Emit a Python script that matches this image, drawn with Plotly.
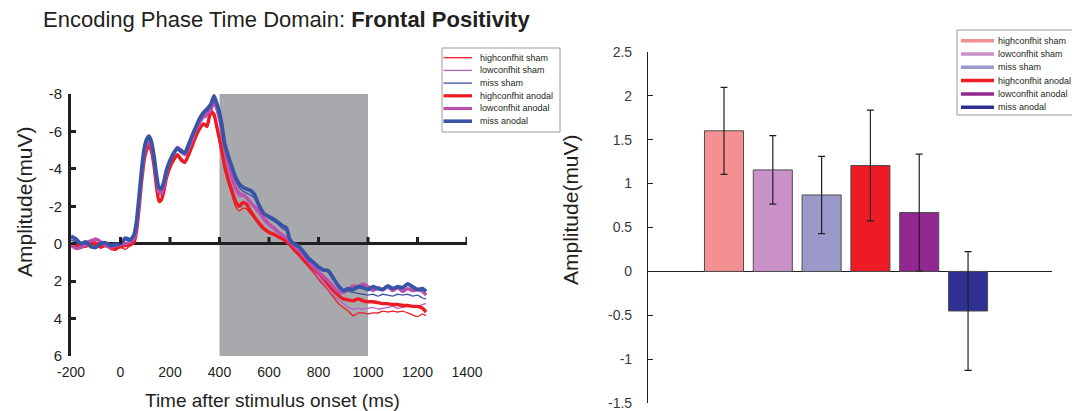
import plotly.graph_objects as go

# The page body has an 8 px default margin, so the figure is drawn 8 px in
# from the window's top-left corner; sizes/positions below are expressed in
# window pixels and converted.
WIN_W, WIN_H = 1080, 411
OFF = 8
W, H = WIN_W - OFF, WIN_H - OFF

# ---------------- data: left panel (ERP waveforms) ----------------
time_ms = [-200, -180, -160, -140, -120, -100, -80, -60, -40, -20,
           0, 20, 40, 55, 65, 75, 85, 95, 105, 115,
           125, 135, 145, 155, 165, 175, 185, 200, 215, 230,
           245, 260, 275, 290, 305, 320, 335, 350, 365, 378,
           390, 400, 410, 420, 435, 450, 465, 480, 495, 510,
           525, 540, 560, 580, 600, 620, 640, 655, 670, 685,
           700, 720, 740, 760, 780, 800, 820, 840, 860, 880,
           900, 920, 940, 960, 980, 1000, 1020, 1040, 1060, 1080,
           1100, 1120, 1140, 1160, 1180, 1200, 1220, 1235]

highconfhit_sham = [0.1, 0.0, 0.1, 0.2, 0.05, 0.1, 0.25, 0.1, 0.3, 0.35,
                    0.2, 0.3, 0.1, 0.0, -0.6, -1.8, -3.2, -4.3, -4.9, -5.2,
                    -4.9, -4.1, -3.0, -2.2, -2.25, -2.7, -3.4, -4.0, -4.4, -4.65,
                    -4.4, -4.3, -4.7, -5.2, -5.7, -6.1, -6.35, -6.2, -6.95, -6.8,
                    -6.0, -5.4, -4.7, -4.0, -3.25, -2.6, -2.0, -1.75, -1.9, -1.85,
                    -1.6, -1.35, -1.0, -0.75, -0.55, -0.45, -0.3, -0.2, -0.05, 0.1,
                    0.35, 0.65, 0.95, 1.25, 1.55, 1.9, 2.2, 2.5, 2.85, 3.2,
                    3.4, 3.6, 3.85, 3.7, 3.7, 3.75, 3.7, 3.7, 3.6, 3.65,
                    3.6, 3.65, 3.6, 3.7, 3.8, 3.9, 3.75, 3.85]

lowconfhit_sham = [0.05, 0.3, 0.15, -0.05, -0.2, -0.1, 0.05, 0.15, 0.1, 0.0,
                   0.0, 0.05, 0.0, -0.2, -0.8, -2.1, -3.5, -4.6, -5.2, -5.4,
                   -5.1, -4.4, -3.4, -2.65, -2.6, -3.0, -3.7, -4.3, -4.75, -5.0,
                   -4.85, -4.7, -5.0, -5.5, -6.0, -6.4, -6.7, -6.8, -7.05, -7.5,
                   -7.0, -6.5, -5.8, -4.9, -4.0, -3.35, -2.8, -2.5, -2.55, -2.4,
                   -2.15, -1.9, -1.55, -1.2, -0.95, -0.75, -0.5, -0.35, -0.2, 0.0,
                   0.2, 0.5, 0.8, 1.1, 1.45, 1.8, 2.1, 2.45, 2.75, 3.0,
                   3.2, 3.4, 3.5, 3.45, 3.5, 3.45, 3.4, 3.5, 3.45, 3.4,
                   3.35, 3.45, 3.4, 3.35, 3.3, 3.35, 3.25, 3.2]

miss_sham = [-0.2, -0.1, 0.05, -0.05, 0.1, 0.2, 0.05, 0.0, 0.1, 0.0,
             0.05, -0.2, -0.1, -0.35, -1.0, -2.3, -3.7, -4.8, -5.4, -5.6,
             -5.3, -4.55, -3.6, -2.9, -2.85, -3.2, -3.85, -4.4, -4.8, -5.0,
             -4.85, -4.75, -5.2, -5.7, -6.1, -6.55, -6.9, -7.05, -7.3, -7.7,
             -7.3, -6.8, -6.1, -5.3, -4.6, -3.95, -3.4, -3.0, -2.8, -2.7,
             -2.6, -2.45, -2.0, -1.6, -1.35, -1.2, -1.0, -0.8, -0.7, -0.3,
             -0.05, 0.2, 0.45, 0.7, 0.95, 1.2, 1.35, 1.5, 1.85, 2.2,
             2.45, 2.55, 2.6, 2.65, 2.7, 2.75, 2.7, 2.8, 2.7, 2.75,
             2.8, 2.7, 2.75, 2.7, 2.8, 2.75, 2.9, 2.95]

highconfhit_anodal = [0.0, 0.1, 0.2, 0.05, -0.1, 0.0, 0.15, 0.1, 0.2, 0.25,
                      0.15, 0.1, 0.05, -0.1, -0.7, -1.9, -3.3, -4.4, -5.0, -5.25,
                      -4.95, -4.2, -3.1, -2.3, -2.35, -2.8, -3.5, -4.1, -4.5, -4.75,
                      -4.5, -4.35, -4.75, -5.25, -5.75, -6.15, -6.4, -6.3, -7.1, -6.9,
                      -6.2, -5.6, -4.9, -4.2, -3.45, -2.85, -2.25, -2.0, -2.2, -2.1,
                      -1.75, -1.45, -1.1, -0.8, -0.62, -0.5, -0.35, -0.27, -0.12, 0.05,
                      0.3, 0.55, 0.85, 1.1, 1.35, 1.55, 1.85, 2.2, 2.5, 2.75,
                      2.95, 3.0, 3.05, 2.95, 3.05, 3.1, 3.1, 3.15, 3.2, 3.2,
                      3.25, 3.25, 3.3, 3.3, 3.35, 3.35, 3.45, 3.65]

lowconfhit_anodal = [0.1, 0.25, 0.2, 0.0, -0.15, -0.25, -0.1, 0.1, 0.2, 0.1,
                     0.05, 0.0, -0.1, -0.3, -0.9, -2.2, -3.6, -4.7, -5.3, -5.5,
                     -5.2, -4.5, -3.5, -2.75, -2.7, -3.1, -3.75, -4.4, -4.85, -5.15,
                     -5.0, -4.8, -5.1, -5.6, -6.1, -6.5, -6.8, -6.95, -7.15, -7.55,
                     -7.2, -6.7, -6.0, -5.1, -4.3, -3.6, -3.0, -2.7, -2.6, -2.45,
                     -2.2, -2.0, -1.75, -1.35, -1.05, -0.85, -0.6, -0.45, -0.3, -0.1,
                     0.1, 0.35, 0.65, 0.95, 1.25, 1.5, 1.75, 2.0, 2.3, 2.55,
                     2.6, 2.45, 2.25, 2.3, 2.15, 2.3, 2.5, 2.35, 2.45, 2.3,
                     2.5, 2.35, 2.55, 2.4, 2.5, 2.45, 2.55, 2.75]

miss_anodal = [-0.4, -0.25, 0.0, -0.1, 0.15, 0.2, 0.0, -0.05, 0.1, 0.05,
               0.0, -0.3, -0.2, -0.5, -1.2, -2.5, -3.9, -5.0, -5.55, -5.75,
               -5.45, -4.7, -3.7, -3.0, -2.95, -3.3, -3.9, -4.45, -4.85, -5.1,
               -4.95, -4.85, -5.3, -5.8, -6.25, -6.7, -7.0, -7.2, -7.45, -7.9,
               -7.45, -7.0, -6.3, -5.4, -4.7, -4.1, -3.55, -3.2, -3.02, -2.92,
               -2.85, -2.65, -2.05, -1.6, -1.45, -1.3, -1.1, -0.95, -0.85, -0.2,
               0.0, 0.15, 0.45, 0.8, 1.0, 1.25, 1.4, 1.45, 1.85, 2.25,
               2.5, 2.4, 2.45, 2.3, 2.35, 2.45, 2.3, 2.4, 2.45, 2.25,
               2.4, 2.3, 2.35, 2.15, 2.3, 2.45, 2.4, 2.55]

series_names = ["highconfhit sham", "lowconfhit sham", "miss sham",
                "highconfhit anodal", "lowconfhit anodal", "miss anodal"]
wave_values = [highconfhit_sham, lowconfhit_sham, miss_sham,
               highconfhit_anodal, lowconfhit_anodal, miss_anodal]

analysis_window_ms = [400, 1000]

time_tickvals = [-200, 0, 200, 400, 600, 800, 1000, 1200, 1400]
time_ticktext = ["-200", "0", "200", "400", "600", "800", "1000", "1200", "1400"]
zero_line_ticks = [0, 200, 400, 600, 800, 1000, 1200, 1400]
amp_tickvals = [-8, -6, -4, -2, 0, 2, 4, 6]
amp_ticktext = ["-8", "-6", "-4", "-2", "0", "2", "4", "6"]

# ---------------- data: right panel (mean amplitude bars) ----------------
bar_means = [1.60, 1.155, 0.87, 1.205, 0.67, -0.45]
bar_errors = [0.495, 0.39, 0.44, 0.63, 0.665, 0.675]
bar_tickvals = [2.5, 2, 1.5, 1, 0.5, 0, -0.5, -1, -1.5]
bar_ticktext = ["2.5", "2", "1.5", "1", "0.5", "0", "-0.5", "-1", "-1.5"]

# ---------------- styles ----------------
FONT = "Liberation Sans, Arial, sans-serif"
INK = "#231F20"
wave_colors = ["#ED1C24", "#B95FBD", "#3A52A8", "#ED1C24", "#BD4FAF", "#3953A6"]
wave_widths = [1.3, 1.3, 1.3, 3.4, 3.4, 3.8]
bar_colors = ["#F59092", "#C991C8", "#9B98CA", "#ED1B24", "#92278F", "#2E3192"]


def px_x(x):
    return (x - OFF) / W


def px_y(y):
    return 1 - (y - OFF) / H


fig = go.Figure()

# left panel: analysis window
fig.add_shape(type="rect", xref="x", yref="y",
              x0=analysis_window_ms[0], x1=analysis_window_ms[1], y0=-8, y1=6,
              fillcolor="#A7A9AC", line=dict(width=0), layer="below")

# waveforms
for name, vals, col, wd in zip(series_names, wave_values, wave_colors, wave_widths):
    fig.add_trace(go.Scatter(x=time_ms, y=vals, mode="lines", name=name,
                             line=dict(color=col, width=wd, shape="spline", smoothing=0.5),
                             showlegend=False, xaxis="x", yaxis="y"))

# tick marks standing on the zero line
tx, ty = [], []
for v in zero_line_ticks:
    tx += [v, v, None]
    ty += [0, -0.36, None]
fig.add_trace(go.Scatter(x=tx, y=ty, mode="lines", line=dict(color=INK, width=3),
                         showlegend=False, hoverinfo="skip", xaxis="x", yaxis="y"))

# right panel bars
fig.add_trace(go.Bar(x=series_names, y=bar_means, width=0.8,
                     marker=dict(color=bar_colors, line=dict(color="#4d4d4d", width=1)),
                     error_y=dict(type="data", array=bar_errors, visible=True,
                                  color=INK, thickness=1.2, width=3.5),
                     showlegend=False, xaxis="x2", yaxis="y2"))

fig.update_layout(
    template="none",
    width=W, height=H, autosize=False, showlegend=False,
    margin=dict(l=0, r=0, t=0, b=0, pad=0, autoexpand=False),
    paper_bgcolor="white", plot_bgcolor="white",
    font=dict(family=FONT, color=INK),
    xaxis=dict(domain=[px_x(71), px_x(467)], range=[-200, 1400], automargin=False,
               showgrid=False, zeroline=False, showline=False, ticks="",
               tickvals=time_tickvals, ticktext=time_ticktext,
               tickfont=dict(size=14, color=INK), ticklabelstandoff=6,
               ticklabeloverflow="allow"),
    yaxis=dict(domain=[px_y(356), px_y(94)], range=[6, -8], automargin=False,
               showgrid=False, zeroline=True, zerolinecolor=INK, zerolinewidth=3,
               showline=True, linecolor=INK, linewidth=3,
               ticks="inside", ticklen=5, tickwidth=3, tickcolor=INK,
               tickvals=amp_tickvals, ticktext=amp_ticktext,
               tickfont=dict(size=15, color=INK), ticklabelstandoff=3,
               ticklabeloverflow="allow"),
    xaxis2=dict(domain=[px_x(648), px_x(1052)], range=[-1.557, 6.72], anchor="y2",
                automargin=False, type="category",
                showgrid=False, zeroline=False, showline=False, ticks="",
                showticklabels=False),
    yaxis2=dict(domain=[px_y(403.3), px_y(51.7)], range=[-1.5, 2.5], anchor="x2",
                automargin=False,
                showgrid=False, zeroline=True, zerolinecolor=INK, zerolinewidth=1.2,
                showline=True, linecolor=INK, linewidth=1.2,
                ticks="inside", ticklen=5, tickwidth=1.2, tickcolor=INK,
                tickvals=bar_tickvals, ticktext=bar_ticktext,
                tickfont=dict(size=14, color="#3a3a3a"), ticklabelstandoff=12,
                ticklabeloverflow="allow"),
    bargap=0.2,
)

# titles
fig.add_annotation(text="Encoding Phase Time Domain: <b>Frontal Positivity</b>",
                   x=px_x(286), y=px_y(20), xref="paper", yref="paper",
                   showarrow=False, xanchor="center", yanchor="middle",
                   font=dict(size=22, color=INK, family=FONT))
fig.add_annotation(text="Time after stimulus onset (ms)", x=px_x(272), y=px_y(400),
                   xref="paper", yref="paper", showarrow=False,
                   xanchor="center", yanchor="middle", font=dict(size=19, color=INK))
fig.add_annotation(text="Amplitude(muV)", x=px_x(24), y=px_y(202), textangle=-90,
                   xref="paper", yref="paper", showarrow=False,
                   xanchor="center", yanchor="middle", font=dict(size=21, color=INK))
fig.add_annotation(text="Amplitude(muV)", x=px_x(571), y=px_y(210), textangle=-90,
                   xref="paper", yref="paper", showarrow=False,
                   xanchor="center", yanchor="middle", font=dict(size=21, color=INK))


def add_legend(box, row0, step, lx0, lx1, tx0, colors, widths):
    fig.add_shape(type="rect", xref="paper", yref="paper",
                  x0=px_x(box[0]), x1=px_x(box[2]), y0=px_y(box[3]), y1=px_y(box[1]),
                  line=dict(color="#9a9a9a", width=1), fillcolor="white")
    for i, (name, col, wd) in enumerate(zip(series_names, colors, widths)):
        yc = row0 + i * step
        fig.add_shape(type="line", xref="paper", yref="paper",
                      x0=px_x(lx0), x1=px_x(lx1), y0=px_y(yc), y1=px_y(yc),
                      line=dict(color=col, width=wd))
        fig.add_annotation(text=name, x=px_x(tx0), y=px_y(yc), xref="paper", yref="paper",
                           showarrow=False, xanchor="left", yanchor="middle",
                           font=dict(size=9, color=INK))


add_legend((442, 48, 560, 132), 57.7, 12.7, 443.5, 472, 478,
           wave_colors, [1.3, 1.3, 1.3, 3.2, 3.2, 3.6])
add_legend((957, 30, 1078, 115), 40.7, 13.3, 961, 994, 996,
           bar_colors, [3.5] * 6)

fig.write_html("out.html")
